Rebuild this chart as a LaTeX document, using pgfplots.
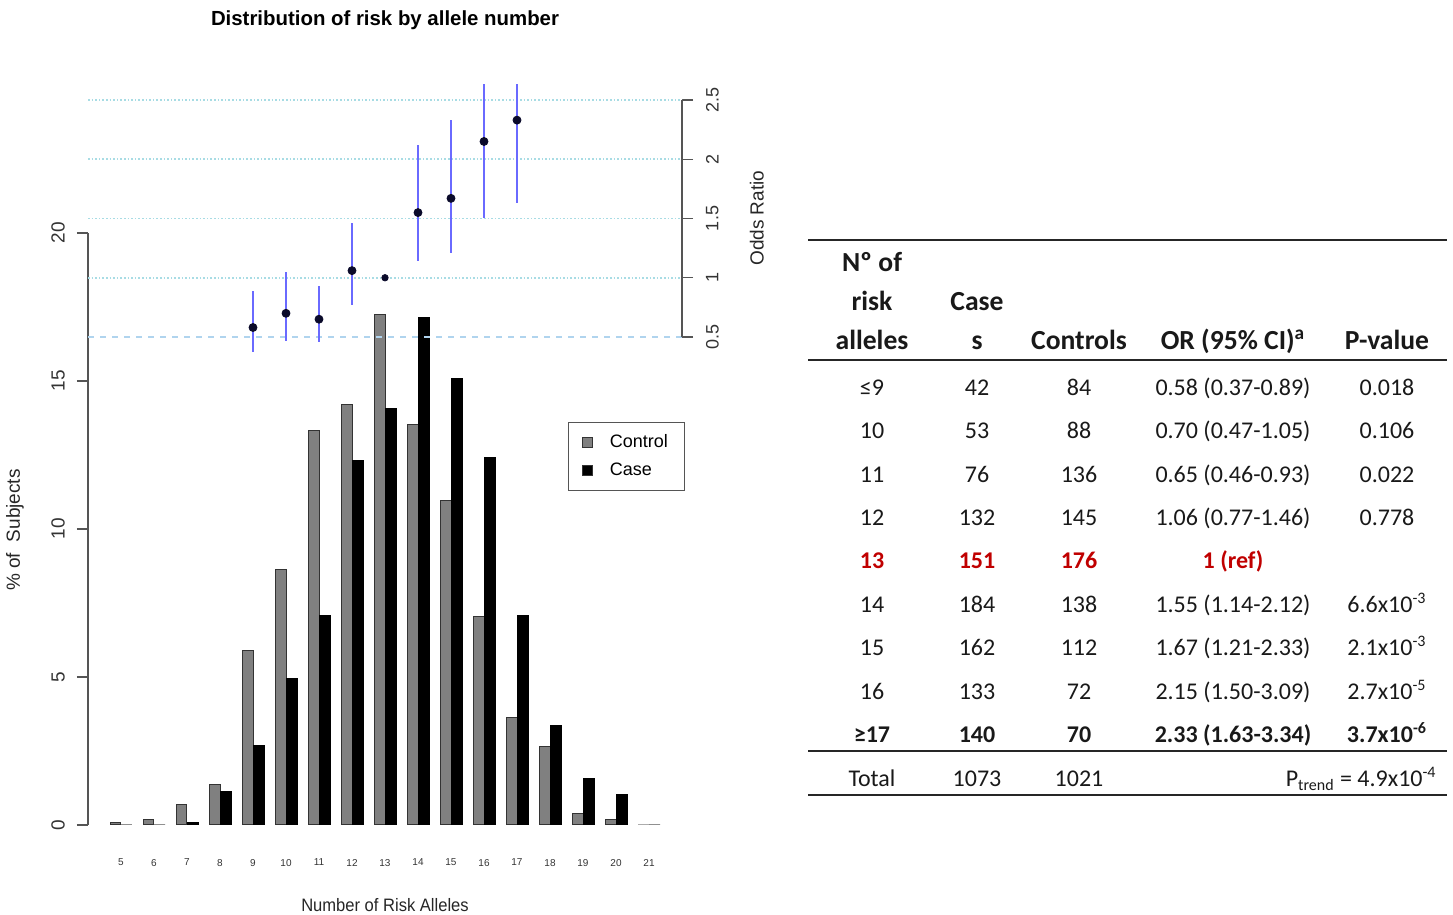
\documentclass[border=0pt]{standalone}
\usepackage{fontspec}
\setmainfont{Carlito}
\newfontfamily\arial{Liberation Sans}
\usepackage{pgfplots}
\usepackage{pgfplotstable}
\usepackage{graphicx}
\pgfplotsset{compat=1.18}

\definecolor{ctrlgray}{HTML}{808080}
\definecolor{errblue}{HTML}{6A6AFF}
\definecolor{ptnavy}{HTML}{0A0A2A}
\definecolor{gridcyan}{HTML}{A8DCE4}
\definecolor{dashblue}{HTML}{B0D4EE}
\definecolor{refred}{HTML}{C00000}
\definecolor{axgray}{HTML}{555555}

\pgfplotstableread{
x ctrl case
5 0.10 0.00
6 0.20 0.00
7 0.69 0.09
8 1.37 1.12
9 5.88 2.70
10 8.62 4.94
11 13.32 7.08
12 14.20 12.30
13 17.24 14.07
14 13.52 17.15
15 10.97 15.10
16 7.05 12.40
17 3.62 7.08
18 2.64 3.36
19 0.39 1.58
20 0.20 1.03
21 0.00 0.00
}\bardata

\pgfplotstableread{
x or ep em
9 0.58 0.31 0.21
10 0.70 0.35 0.23
11 0.65 0.28 0.19
12 1.06 0.40 0.29
14 1.55 0.57 0.41
15 1.67 0.66 0.46
16 2.15 0.94 0.65
17 2.33 1.01 0.70
}\ordata

\newcommand{\hd}{\bfseries\fontsize{13.8}{16}\selectfont}
\newcommand{\bd}{\fontsize{12}{14}\selectfont}

\begin{document}
\begin{tikzpicture}
\useasboundingbox (0,0) rectangle (726.5pt,457.5pt);

% ---------- bar chart (% of subjects) ----------
\begin{axis}[
  at={(44pt,45pt)}, anchor=south west,
  scale only axis, width=297pt, height=370pt,
  xmin=4, xmax=22, ymin=0, ymax=25,
  axis x line*=bottom, axis y line*=left,
  x axis line style={draw=none}, y axis line style={draw=none},
  xtick={5,...,21}, xtick style={draw=none},
  ytick={0,5,10,15,20},
  ytick style={axgray, line width=0.6pt},
  major tick length=5.5pt, tick align=outside,
  /pgf/number format/assume math mode=true,
  xticklabel style={font=\arial\fontsize{5}{6}\selectfont, text=black!80, yshift=-8pt},
  yticklabel style={font=\arial\fontsize{9.5}{11}\selectfont, text=black!80, rotate=90, anchor=south, yshift=2.5pt},
  title={Distribution of risk by allele number},
  title style={font=\arial\bfseries\fontsize{10.2}{12}\selectfont, at={(axis description cs:0.5,1.0716)}, anchor=center},
  xlabel={\scalebox{0.92}[1]{Number of Risk Alleles}},
  xlabel style={font=\arial\fontsize{9}{11}\selectfont, text=black!85, at={(axis description cs:0.5,-0.108)}, anchor=center},
  ylabel={\%\ of\ \ Subjects},
  ylabel style={font=\arial\fontsize{9.5}{11}\selectfont, text=black!85, at={(axis description cs:-0.1229,0.3986)}, anchor=center},
  legend style={at={(axis description cs:0.8081,0.5446)}, anchor=north west, draw=axgray, line width=0.6pt,
    font=\arial\fontsize{9}{10}\selectfont, inner xsep=6.5pt, inner ysep=4pt, row sep=2pt,
    /tikz/every odd column/.append style={column sep=6.5pt}},
  legend cell align=left,
  legend image code/.code={\draw[#1, draw=black!80, line width=0.4pt] (0pt,-2.6pt) rectangle (5.2pt,2.6pt);},
  clip=false,
  after end axis/.code={\draw[axgray, line width=0.6pt] (axis cs:4,0) -- (axis cs:4,20);},
]
\addplot[ybar, bar width=0.3333, bar shift=-0.16667, fill=ctrlgray, draw=black!80, line width=0.5pt]
  table[x=x, y=ctrl] {\bardata};
\addlegendentry{Control}
\addplot[ybar, bar width=0.3333, bar shift=0.16667, fill=black, draw=black, line width=0.5pt]
  table[x=x, y=case] {\bardata};
\addlegendentry{Case}
\end{axis}

% ---------- odds ratio overlay ----------
\begin{axis}[
  at={(44pt,45pt)}, anchor=south west,
  scale only axis, width=297pt, height=370pt,
  xmin=4, xmax=22, ymin=-3.618, ymax=2.6266,
  axis x line=none, axis y line*=right,
  y axis line style={draw=none},
  ytick={0.5,1,1.5,2,2.5},
  yticklabels={0.5,1,1.5,2,2.5},
  ytick style={axgray, line width=0.6pt},
  major tick length=5.5pt, tick align=outside,
  yticklabel style={font=\arial\fontsize{9}{11}\selectfont, text=black!80, rotate=90, anchor=north, yshift=-3pt},
  ylabel={Odds Ratio},
  ylabel style={font=\arial\fontsize{9.5}{11}\selectfont, text=black!85, at={(axis description cs:1.126,0.820)}, anchor=center},
  clip mode=individual,
  after end axis/.code={\draw[axgray, line width=0.6pt] (axis cs:22,0.5) -- (axis cs:22,2.5);},
]
\addplot[dashblue, dashed, line width=0.8pt, forget plot] coordinates {(4,0.5) (22,0.5)};
\addplot[gridcyan, densely dotted, line width=0.8pt, forget plot] coordinates {(4,1) (22,1)};
\addplot[gridcyan, densely dotted, line width=0.8pt, forget plot] coordinates {(4,1.5) (22,1.5)};
\addplot[gridcyan, densely dotted, line width=0.8pt, forget plot] coordinates {(4,2) (22,2)};
\addplot[gridcyan, densely dotted, line width=0.8pt, forget plot] coordinates {(4,2.5) (22,2.5)};
\addplot[only marks, mark=*, mark size=2pt, color=ptnavy,
  error bars/.cd, y dir=both, y explicit, error mark=none,
  error bar style={errblue, line width=1pt}]
  table[x=x, y=or, y error plus=ep, y error minus=em] {\ordata};
\addplot[only marks, mark=*, mark size=1.6pt, color=ptnavy] coordinates {(13,1)};
\end{axis}

% ---------- table ----------
\draw[black!85, line width=1pt] (404pt,337.5pt) -- (723.5pt,337.5pt);
\draw[black!85, line width=1pt] (404pt,277.5pt) -- (723.5pt,277.5pt);
\draw[black!85, line width=1pt] (404pt,82pt) -- (723.5pt,82pt);
\draw[black!85, line width=1pt] (404pt,60pt) -- (723.5pt,60pt);

\begin{scope}[every node/.style={anchor=base, inner sep=0pt, text=black!90}]
% header
\node at (436pt,321.5pt) {\hd Nº of};
\node at (436pt,302pt) {\hd risk};
\node at (436pt,282.5pt) {\hd alleles};
\node at (488.5pt,302pt) {\hd Case};
\node at (488.5pt,282.5pt) {\hd s};
\node at (539.5pt,282.5pt) {\hd Controls};
\node at (616.5pt,282.5pt) {\hd OR (95\% CI)\textsuperscript{a}};
\node at (693.5pt,282.5pt) {\hd P-value};
% rows
\node at (436pt,259.75pt) {\bd ≤9};
\node at (488.5pt,259.75pt) {\bd 42};
\node at (539.5pt,259.75pt) {\bd 84};
\node at (616.5pt,259.75pt) {\bd 0.58 (0.37-0.89)};
\node at (693.5pt,259.75pt) {\bd 0.018};

\node at (436pt,238.25pt) {\bd 10};
\node at (488.5pt,238.25pt) {\bd 53};
\node at (539.5pt,238.25pt) {\bd 88};
\node at (616.5pt,238.25pt) {\bd 0.70 (0.47-1.05)};
\node at (693.5pt,238.25pt) {\bd 0.106};

\node at (436pt,216.25pt) {\bd 11};
\node at (488.5pt,216.25pt) {\bd 76};
\node at (539.5pt,216.25pt) {\bd 136};
\node at (616.5pt,216.25pt) {\bd 0.65 (0.46-0.93)};
\node at (693.5pt,216.25pt) {\bd 0.022};

\node at (436pt,194.75pt) {\bd 12};
\node at (488.5pt,194.75pt) {\bd 132};
\node at (539.5pt,194.75pt) {\bd 145};
\node at (616.5pt,194.75pt) {\bd 1.06 (0.77-1.46)};
\node at (693.5pt,194.75pt) {\bd 0.778};

\node[text=refred] at (436pt,173.25pt) {\bd\bfseries 13};
\node[text=refred] at (488.5pt,173.25pt) {\bd\bfseries 151};
\node[text=refred] at (539.5pt,173.25pt) {\bd\bfseries 176};
\node[text=refred] at (616.5pt,173.25pt) {\bd\bfseries 1 (ref)};

\node at (436pt,151.25pt) {\bd 14};
\node at (488.5pt,151.25pt) {\bd 184};
\node at (539.5pt,151.25pt) {\bd 138};
\node at (616.5pt,151.25pt) {\bd 1.55 (1.14-2.12)};
\node at (693.5pt,151.25pt) {\bd 6.6x10\textsuperscript{-3}};

\node at (436pt,129.75pt) {\bd 15};
\node at (488.5pt,129.75pt) {\bd 162};
\node at (539.5pt,129.75pt) {\bd 112};
\node at (616.5pt,129.75pt) {\bd 1.67 (1.21-2.33)};
\node at (693.5pt,129.75pt) {\bd 2.1x10\textsuperscript{-3}};

\node at (436pt,107.75pt) {\bd 16};
\node at (488.5pt,107.75pt) {\bd 133};
\node at (539.5pt,107.75pt) {\bd 72};
\node at (616.5pt,107.75pt) {\bd 2.15 (1.50-3.09)};
\node at (693.5pt,107.75pt) {\bd 2.7x10\textsuperscript{-5}};

\node at (436pt,86.25pt) {\bd\bfseries ≥17};
\node at (488.5pt,86.25pt) {\bd\bfseries 140};
\node at (539.5pt,86.25pt) {\bd\bfseries 70};
\node at (616.5pt,86.25pt) {\bd\bfseries 2.33 (1.63-3.34)};
\node at (693.5pt,86.25pt) {\bd\bfseries 3.7x10\textsuperscript{-6}};

\node at (436pt,64.25pt) {\bd Total};
\node at (488.5pt,64.25pt) {\bd 1073};
\node at (539.5pt,64.25pt) {\bd 1021};
\node[anchor=base east] at (718.5pt,64.25pt) {\bd P\textsubscript{trend} = 4.9x10\textsuperscript{-4}};
\end{scope}
\end{tikzpicture}
\end{document}
